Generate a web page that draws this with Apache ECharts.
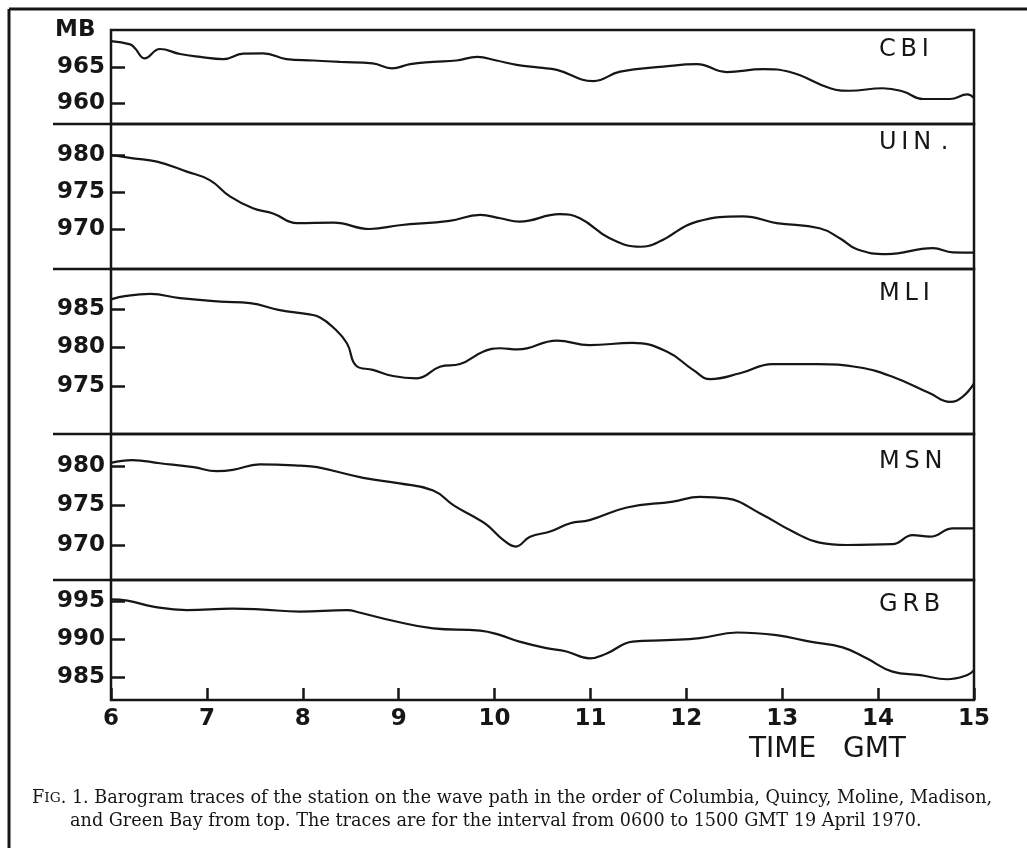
<!DOCTYPE html>
<html>
<head>
<meta charset="utf-8">
<script src="https://cdn.jsdelivr.net/npm/echarts@6/dist/echarts.min.js"></script>
<style>
html,body{margin:0;padding:0;background:#fff;}
#chart{width:1027px;height:848px;}
</style>
</head>
<body>
<div id="chart"></div>
<script>
// ---------- DATA ----------
const stations = ['CBI', 'UIN', 'MLI', 'MSN', 'GRB'];
const xTicks = [6, 7, 8, 9, 10, 11, 12, 13, 14, 15];

const cbiTime = [6.0,6.2,6.25,6.35,6.51,6.72,6.93,7.17,7.38,7.59,7.83,8.11,8.39,8.73,8.93,9.12,9.36,9.6,9.82,10.02,10.23,10.47,10.65,11.03,11.31,11.76,12.11,12.42,12.8,13.08,13.5,13.7,14.05,14.26,14.47,14.75,14.93,15.0];
const cbiP    = [968.6,968.15,967.6,966.2,967.5,966.8,966.4,966.1,966.85,966.9,966.1,965.9,965.7,965.5,964.8,965.4,965.7,965.9,966.4,965.9,965.3,964.9,964.6,963.05,964.35,965.05,965.4,964.3,964.7,964.3,962.05,961.7,962.05,961.6,960.55,960.55,961.2,960.7];

const uinTime = [6.0,6.23,6.48,6.79,7.03,7.24,7.48,7.69,7.94,8.32,8.7,9.01,9.53,9.85,10.06,10.26,10.68,10.89,11.2,11.52,11.72,12.11,12.59,12.94,13.39,13.6,13.78,14.09,14.57,14.78,15.0];
const uinP    = [980.0,979.55,979.1,977.75,976.6,974.4,972.8,972.1,970.8,970.85,970.0,970.5,971.1,971.9,971.45,971.0,972.0,971.45,968.75,967.6,968.3,971.0,971.7,970.8,970.1,968.75,967.25,966.6,967.4,966.85,966.8];

const mliTime = [6.0,6.16,6.41,6.72,7.14,7.45,7.76,8.07,8.18,8.31,8.46,8.56,8.73,8.94,9.19,9.43,9.64,9.88,10.06,10.24,10.65,10.99,11.44,11.8,12.07,12.25,12.56,12.9,13.36,13.81,14.15,14.54,14.75,14.88,15.0];
const mliP    = [986.25,986.7,986.95,986.4,985.95,985.75,984.85,984.3,983.9,982.7,980.55,977.6,977.1,976.3,976.0,977.5,977.85,979.45,979.9,979.75,980.9,980.3,980.6,979.45,977.1,975.9,976.65,977.85,977.85,977.4,976.2,974.05,972.95,973.6,975.35];

const msnTime = [6.0,6.22,6.51,6.86,7.1,7.27,7.55,7.97,8.15,8.63,9.01,9.36,9.57,9.78,9.92,10.09,10.22,10.37,10.58,10.79,10.99,11.38,11.86,12.14,12.42,12.77,13.11,13.39,13.67,14.15,14.36,14.54,14.78,15.0];
const msnP    = [980.4,980.75,980.35,979.85,979.35,979.5,980.2,980.05,979.85,978.5,977.8,976.9,975.05,973.6,972.55,970.65,969.8,971.05,971.7,972.75,973.15,974.75,975.5,976.1,975.9,974.0,971.7,970.3,970.0,970.1,971.25,971.05,972.1,972.1];

const grbTime = [6.0,6.17,6.44,6.79,7.27,7.55,7.97,8.46,8.6,8.94,9.36,9.85,10.06,10.26,10.54,10.75,10.99,11.17,11.44,11.8,12.14,12.53,12.94,13.29,13.63,13.88,14.15,14.44,14.72,14.93,15.0];
const grbP    = [995.2,995.05,994.25,993.8,994.0,993.9,993.6,993.8,993.45,992.4,991.4,991.1,990.5,989.65,988.8,988.35,987.45,988.1,989.65,989.85,990.1,990.85,990.5,989.65,988.9,987.45,985.7,985.25,984.7,985.25,985.9];

// y tick labels per panel
const cbiTicks = [960, 965];
const uinTicks = [970, 975, 980];
const mliTicks = [975, 980, 985];
const msnTicks = [970, 975, 980];
const grbTicks = [985, 990, 995];

// axis ranges per panel
const yMin = [957.08, 964.59, 968.77, 965.57, 981.97];
const yMax = [970.14, 984.19, 990.19, 984.05, 997.76];

const captionLine1 = ['F', 'IG', '. 1. Barogram traces of the station on the wave path in the order of Columbia, Quincy, Moline, Madison,'];
const captionLine2 = 'and Green Bay from top. The traces are for the interval from 0600 to 1500 GMT 19 April 1970.';

// ---------- LAYOUT ----------
const times = [cbiTime, uinTime, mliTime, msnTime, grbTime];
const pres = [cbiP, uinP, mliP, msnP, grbP];
const yTicks = [cbiTicks, uinTicks, mliTicks, msnTicks, grbTicks];
const panelTop = [30, 124, 269, 434, 580];
const panelH = [94, 145, 165, 146, 120];
const plotLeft = 111, plotRight = 974, W = 1027;
const ink = '#161616';
const numFont = 'DejaVu Sans';

const grid = [], xAxis = [], yAxis = [], series = [], title = [];
for (let i = 0; i < 5; i++) {
  const last = i === 4;
  grid.push({
    left: plotLeft, right: W - plotRight, top: panelTop[i], height: panelH[i],
    show: true, borderColor: ink, borderWidth: 2.5, backgroundColor: 'transparent',
    containLabel: false, outerBoundsMode: 'none'
  });
  xAxis.push({
    type: 'value', gridIndex: i, min: 6, max: 15, interval: 1,
    show: last,
    axisLine: {show: false},
    splitLine: {show: false},
    axisTick: {show: last, inside: true, length: 12, lineStyle: {color: ink, width: 2.5}},
    axisLabel: {show: last, margin: 8, color: ink, fontFamily: numFont, fontWeight: 'bold', fontSize: 23,
      customValues: xTicks}
  });
  yAxis.push({
    type: 'value', gridIndex: i, min: yMin[i], max: yMax[i], scale: true,
    axisLine: {show: false},
    splitLine: {show: false},
    axisTick: {show: true, inside: true, length: 14, lineStyle: {color: ink, width: 2.5}, customValues: yTicks[i]},
    axisLabel: {show: true, margin: 6, color: ink, fontFamily: numFont, fontWeight: 'bold', fontSize: 23,
      customValues: yTicks[i]}
  });
  series.push({
    type: 'line', name: stations[i], xAxisIndex: i, yAxisIndex: i,
    data: times[i].map((t, k) => [t, pres[i][k]]),
    showSymbol: false, smooth: 0.45,
    lineStyle: {color: ink, width: 2.2}, silent: true, animation: false
  });
}

const labelLeft = 879;
const labelTop = [42, 135, 286, 454, 597];
stations.forEach((s, i) => {
  title.push({
    text: s.split('').join('\u2009') + (s === 'UIN' ? '\u2009\u2009.' : ''),
    left: labelLeft, top: labelTop[i] - 4, padding: 0,
    textStyle: {fontFamily: numFont, fontWeight: 'normal', fontSize: 24, color: ink}
  });
});
title.push({text: 'MB', left: 55, top: 19, padding: 0,
  textStyle: {fontFamily: numFont, fontWeight: 'bold', fontSize: 23, color: ink}});
title.push({text: 'TIME', left: 749, top: 736, padding: 0,
  textStyle: {fontFamily: numFont, fontWeight: 'normal', fontSize: 28, color: ink}});
title.push({text: 'GMT', left: 843, top: 736, padding: 0,
  textStyle: {fontFamily: numFont, fontWeight: 'normal', fontSize: 28, color: ink}});

// caption size fitted to the reference line width
const capFont = 'DejaVu Serif';
const cv = document.createElement('canvas').getContext('2d');
cv.font = 'normal 17px "' + capFont + '"';
const w1 = cv.measureText(captionLine1.join('')).width;
const capSize = Math.max(13, Math.min(20, 17 * 965 / w1));
title.push({
  text: '{a|' + captionLine1[0] + '}{b|' + captionLine1[1] + '}{a|' + captionLine1[2] + '}',
  left: 32, top: 789, padding: 0,
  textStyle: {fontWeight: 'normal', rich: {
    a: {fontFamily: capFont, fontSize: capSize, fontWeight: 'normal', color: ink},
    b: {fontFamily: capFont, fontSize: capSize * 0.78, fontWeight: 'normal', color: ink}
  }}
});
title.push({
  text: captionLine2, left: 70, top: 812, padding: 0,
  textStyle: {fontFamily: capFont, fontSize: capSize, fontWeight: 'normal', color: ink}
});

// frame and separator stubs
const graphic = [
  {type: 'line', shape: {x1: 9, y1: 9, x2: W, y2: 9}, style: {stroke: ink, lineWidth: 3}},
  {type: 'line', shape: {x1: 9, y1: 9, x2: 9, y2: 848}, style: {stroke: ink, lineWidth: 3}}
];
for (let i = 1; i < 5; i++) {
  graphic.push({type: 'line', shape: {x1: 53, y1: panelTop[i], x2: plotLeft, y2: panelTop[i]},
    style: {stroke: ink, lineWidth: 2.5}});
}

const chart = echarts.init(document.getElementById('chart'), null, {renderer: 'canvas'});
chart.setOption({
  backgroundColor: '#fff',
  animation: false,
  title, grid, xAxis, yAxis, series, graphic
});
</script>
</body>
</html>
